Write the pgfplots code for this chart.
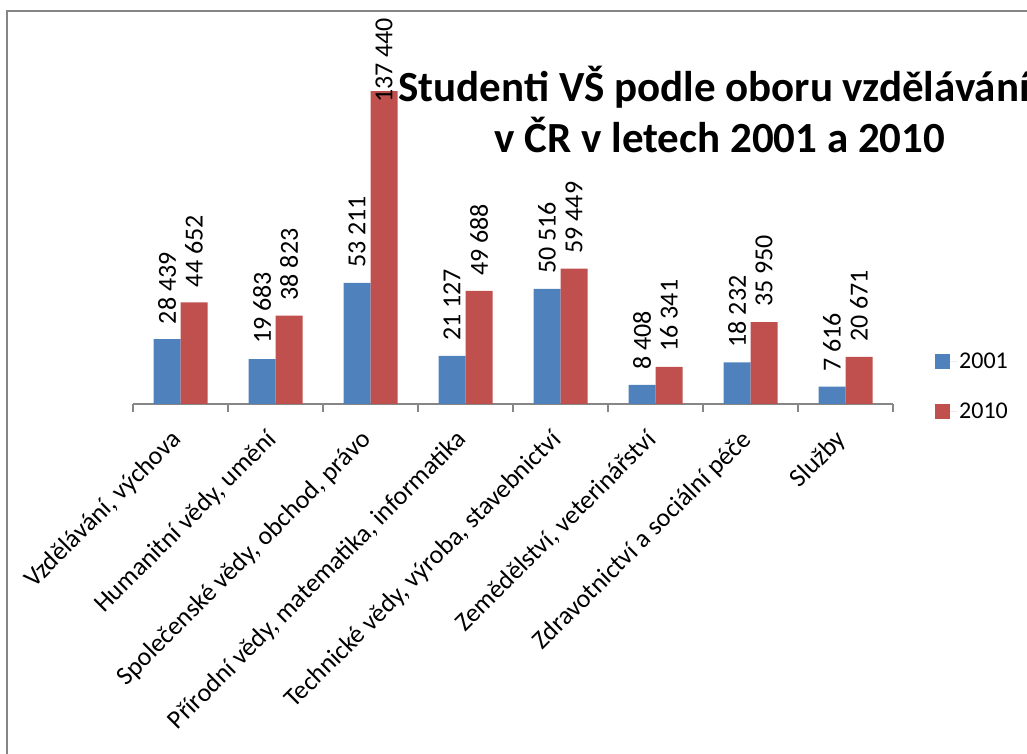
\documentclass[border=0pt]{standalone}
\usepackage{pgfplots}
\pgfplotsset{compat=1.18}
\usepackage{fontspec}
\setmainfont{Carlito}
\definecolor{cblue}{HTML}{4F81BD}
\definecolor{cred}{HTML}{C0504D}
\definecolor{axgray}{HTML}{868686}
\pgfplotstableread{
x y off
0 28439 15
1 19683 15
2 53211 15
3 21127 15
4 50516 15
5 8408 15
6 18232 15
7 7616 15
}\tabA
\pgfplotstableread{
x y off
0 44652 15
1 38823 15
2 137440 -12
3 49688 15
4 59449 15
5 16341 15
6 35950 15
7 20671 15
}\tabB
\begin{document}
\begin{tikzpicture}[x=1pt,y=1pt]
\useasboundingbox (0,0) rectangle (1027,754);
\draw[axgray, line width=1.5pt] (7,-5) -- (7,743) -- (1032,743);
\begin{axis}[
  at={(133pt,350pt)}, anchor=south west,
  scale only axis, width=760pt, height=318.8pt,
  xmin=-0.5, xmax=7.5, ymin=0, ymax=140000,
  hide y axis,
  axis x line=bottom,
  x axis line style={-, draw=axgray, line width=1.3pt},
  clip=false,
  ybar=0pt, bar width=27pt,
  xtick={0,...,7},
  xticklabels={Vzdělávání{,} výchova, Humanitní vědy{,} umění, Společenské vědy{,} obchod{,} právo, Přírodní vědy{,} matematika{,} informatika, Technické vědy{,} výroba{,} stavebnictví, Zemědělství{,} veterinářství, Zdravotnictví a sociální péče, Služby},
  minor xtick={-0.5,0.5,...,7.5},
  major tick length=0pt, minor tick length=8pt,
  tick align=outside,
  minor tick style={axgray, line width=1.3pt},
  xticklabel style={font=\fontsize{26}{26}\selectfont, xshift=-11pt, yshift=-24pt, rotate=45, anchor=north east, inner sep=0pt},
  /pgf/number format/.cd, fixed, precision=0, 1000 sep={\ }, assume math mode=true,
  /pgfplots/.cd,
  visualization depends on={\thisrow{off} \as \myoff},
  nodes near coords,
  nodes near coords style={font=\fontsize{26}{26}\selectfont, black, anchor=west, rotate=90, inner sep=0pt, xshift=\myoff pt},
  legend style={at={(rel axis cs:1,0)}, anchor=south west, xshift=42pt, yshift=-18pt, draw=none, fill=none, font=\fontsize{24}{24}\selectfont, row sep=29pt, inner sep=0pt},
  legend cell align=left,
  legend image code/.code={\fill[#1] (0pt,-7.5pt) rectangle (15pt,7.5pt); \path (0pt,0pt) -- (22pt,0pt);},
]
\addplot[fill=cblue, draw=none] table[x=x, y=y] {\tabA};
\addplot[fill=cred, draw=none] table[x=x, y=y] {\tabB};
\legend{2001,2010}
\end{axis}
\node[anchor=base, font=\bfseries\fontsize{43}{43}\selectfont] at (714,652) {Studenti VŠ podle oboru vzdělávání};
\node[anchor=base, font=\bfseries\fontsize{43}{43}\selectfont] at (720,601) {v ČR v letech 2001 a 2010};
\end{tikzpicture}
\end{document}
